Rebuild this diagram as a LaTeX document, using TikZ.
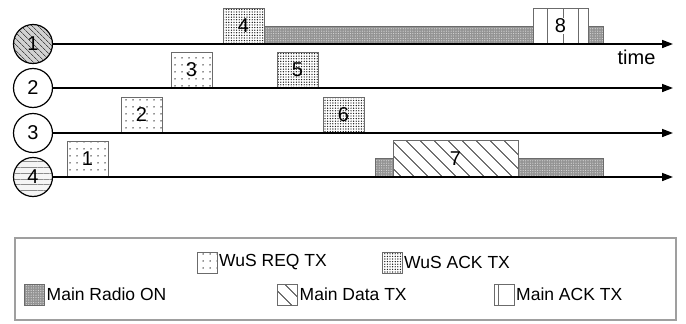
\documentclass[tikz,border=0pt]{standalone}
\usepackage{fontspec}
\setmainfont{Liberation Sans}
\usetikzlibrary{arrows.meta,patterns.meta,positioning,calc}
\definecolor{slotgray}{gray}{0.42}
\tikzset{
  station/.style={draw, circle, line width=1.2pt, minimum size=39pt, inner sep=0pt, font=\fontsize{20}{20}\selectfont},
  timeline/.style={-{Triangle[length=11pt,width=8pt]}, line width=1.6pt},
  slot/.style={draw=slotgray, line width=1pt, inner sep=0pt, outer sep=0pt, minimum width=41pt, minimum height=36pt, font=\fontsize{20}{20}\selectfont},
  wusreq/.style={slot, preaction={fill=white}, pattern={Dots[distance=7pt,radius=0.75pt]}, pattern color=black!85},
  wusack/.style={slot, preaction={fill=white}, pattern={Dots[distance=2.6pt,radius=0.7pt]}, pattern color=black!90},
  radio/.style={slot, minimum height=18pt, preaction={fill=gray!85}, pattern={Dots[distance=2.4pt,radius=0.6pt]}, pattern color=gray!30},
  maindata/.style={slot, preaction={fill=white}, pattern={Lines[angle=-45,distance=10.5pt,line width=1pt]}, pattern color=black!85},
  mainack/.style={slot, fill=white, path picture={
      \foreach \f in {#1}
        \draw[slotgray, line width=0.9pt]
          ($(path picture bounding box.south west)!\f!(path picture bounding box.south east)$) --
          ($(path picture bounding box.north west)!\f!(path picture bounding box.north east)$);}},
  mainack/.default={0.255,0.545,0.82},
  swatch/.style={minimum width=20pt, minimum height=21pt},
  legendtext/.style={inner sep=0pt, anchor=west, font=\fontsize{17.5}{17.5}\selectfont}
}

\begin{document}
\begin{tikzpicture}[x=1pt, y=-1pt]
  \useasboundingbox (0,0) rectangle (686,324);

  % stations
  \node[station, preaction={fill=gray!35}, pattern={Lines[angle=-45,distance=4pt,line width=0.8pt]}, pattern color=black!70] (s1) at (33,44) {1};
  \node[station] (s2) at (33,88) {2};
  \node[station] (s3) at (33,133) {3};
  \node[station, preaction={fill=gray!8}, pattern={Lines[distance=5.8pt,line width=0.7pt]}, pattern color=black!45] (s4) at (33,177) {4};

  % station 1
  \node[wusack, anchor=south west] (b4) at (223,44) {4};
  \node[radio, anchor=south west, minimum width=269pt] (r1a) at (264,44) {};
  \node[mainack, anchor=south west, minimum width=55pt] (b8) at (533,44) {\setlength{\fboxsep}{0.6pt}\colorbox{white}{8}};
  \node[radio, anchor=south west, minimum width=15pt] (r1b) at (588,44) {};
  % station 2
  \node[wusreq, anchor=south west] (b3) at (171,88) {3};
  \node[wusack, anchor=south west] (b5) at (277,88) {5};
  % station 3
  \node[wusreq, anchor=south west] (b2) at (121,133) {2};
  \node[wusack, anchor=south west] (b6) at (323,133) {6};
  % station 4
  \node[wusreq, anchor=south west] (b1) at (67,177) {1};
  \node[radio, anchor=south west, minimum width=18pt, minimum height=19pt] (r4a) at (375,177) {};
  \node[maindata, anchor=south west, minimum width=125pt, minimum height=37pt] (b7) at (393,177) {7};
  \node[radio, anchor=south west, minimum width=85pt, minimum height=19pt] (r4b) at (518,177) {};

  \coordinate (e1) at (673,44);
  \coordinate (e2) at (673,88);
  \coordinate (e3) at (673,133);
  \coordinate (e4) at (673,177);
  \draw[timeline] (s1.east) -- (e1);
  \draw[timeline] (s2.east) -- (e2);
  \draw[timeline] (s3.east) -- (e3);
  \draw[timeline] (s4.east) -- (e4);
  \node[font=\fontsize{20}{20}\selectfont, inner sep=0pt] (tlabel) at (636.5,57) {time};

  % legend
  \node[draw=gray!75, line width=2pt, minimum width=661pt, minimum height=82pt, anchor=north west] (legend) at (14,237) {};
  \node[wusreq, swatch] (lreq) at (207,262.5) {};
  \node[legendtext, right=2pt of lreq] (treq) {WuS REQ TX};
  \node[wusack, swatch] (lack) at (392,262.5) {};
  \node[legendtext, right=2pt of lack] (tack) {WuS ACK TX};
  \node[radio, swatch] (lradio) at (34.5,294.5) {};
  \node[legendtext, right=2pt of lradio] (tradio) {Main Radio ON};
  \node[maindata, swatch] (ldata) at (287.5,294.5) {};
  \node[legendtext, right=2pt of ldata] (tdata) {Main Data TX};
  \node[mainack=0.22, swatch] (lmack) at (504,294.5) {};
  \node[legendtext, right=2pt of lmack] (tmack) {Main ACK TX};
\end{tikzpicture}
\end{document}
